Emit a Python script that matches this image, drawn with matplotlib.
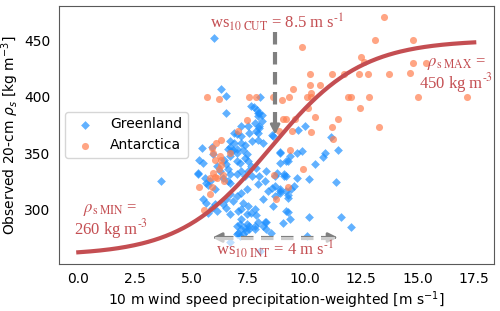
import numpy as np
from matplotlib import pyplot as plt

# Greenland sites: precipitation-weighted 10 m wind speed, observed 20-cm density
gl_ws = [6.0, 6.3, 6.55, 6.55, 7.2, 7.0, 7.5, 5.45,
         8.05, 7.75, 7.95, 8.1, 7.8, 8.0, 8.6, 9.7, 10.0, 11.15, 11.5, 8.9, 9.9, 10.9,
         10.8, 9.25, 10.45, 9.1, 9.2, 9.65, 10.2, 11.4, 8.9, 9.2, 9.55, 9.25, 10.2, 9.05, 11.6, 12.05, 10.1,
         8.25, 8.3, 8.5, 7.8, 7.55, 8.05, 6.7,
         7.2, 7.55, 7.95, 6.7, 6.9, 7.2, 7.7, 8.15,
         6.85, 7.0, 7.3, 7.45, 7.0, 7.15, 7.35, 7.5,
         7.65, 7.85, 7.5, 7.2, 7.0, 7.35, 7.7,
         8.3, 8.7, 8.25, 8.0, 7.95,
         8.55, 8.4, 8.9, 9.4, 9.25,
         8.15, 8.6,
         7.45, 7.2, 7.0, 6.85,
         7.3, 7.5, 7.2, 7.65, 7.45, 7.8, 7.85,
         7.15, 7.35, 7.4, 7.0,
         6.9, 5.9, 5.95, 5.35, 5.5, 6.6, 6.75, 6.7, 6.45, 6.55, 6.6, 5.3, 5.6, 5.8,
         6.15, 6.25, 6.4, 6.6, 6.7, 5.75, 6.05, 5.5, 5.65, 6.05, 6.4, 6.15, 6.55, 6.7, 3.65,
         5.3, 5.65, 5.9, 5.75, 6.55, 6.7,
         7.05, 7.2, 7.45, 7.0, 7.2, 7.05, 7.15, 7.3, 7.55, 7.8, 7.95, 8.15, 8.3,
         8.7, 8.7, 8.9, 9.25, 9.2, 9.35,
         9.1, 8.8, 8.9, 9.2, 9.35, 8.9, 9.65,
         7.65, 7.9, 8.0, 7.95, 8.1, 8.0, 7.85, 7.95,
         8.55, 6.7, 7.0, 7.35, 6.7]
gl_rho = [451.5, 406.7, 401, 386, 374.4, 367.4, 373.8, 354.8,
          400, 391, 386, 384, 377, 374, 365.6, 371, 374, 364.5, 353.3, 351, 352, 350.4,
          347, 343, 340.8, 331.4, 330, 328.5, 327, 325, 316.7, 316.7, 321, 298.2, 294.2, 288.3, 294.2, 285, 277,
          289, 283.6, 280, 283, 286, 264, 271.4,
          365, 368, 368, 360.6, 359.2, 359.2, 360.6, 359.2,
          353.3, 350.4, 353.3, 349, 343, 341.6, 346, 343,
          338.7, 337.3, 334.3, 334.3, 331.4, 329.9, 329.9,
          334.3, 329.9, 325.5, 329.9, 322.6,
          319.7, 316.7, 318.2, 318.2, 313,
          309.4, 303.5,
          318.2, 315.3, 312.3, 308,
          306.5, 303.5, 300.6, 297.7, 296.2, 300.6, 295.4,
          287.4, 284.5, 281.5, 278.6,
          368, 355.4, 349.8, 344.5, 341.6, 354, 351.9, 347.5, 344.5, 340.2, 335.8, 331.4, 328.5, 325.5,
          338.7, 334.3, 328.5, 325.5, 331.4, 321.7, 318.2, 310, 305.9, 305, 305, 299, 309.4, 313.8, 325.5,
          332.9, 324, 302, 297, 302, 296.2,
          299, 291.7, 287.4, 286, 283, 280.1, 277.2, 278.6, 283.6, 286, 289, 286, 289,
          321, 312.3, 315.3, 310.9, 299, 291.7,
          330, 332.9, 341.6, 343, 347.5, 350.4, 350.4,
          391.4, 388.4, 385.6, 382.6, 378.2, 372.4, 369.4, 362,
          366.5, 355.5, 354, 357, 324]

# Antarctica sites
an_ws = [13.5, 13.1, 14.8, 9.9, 12.5, 12.65, 14.8, 15.35, 10.25, 11.2, 11.75, 12.4, 12.8, 13.75, 14.65,
         10.25, 10.7, 9.5, 10.3, 5.7, 6.2, 7.55, 7.85, 8.6, 9.0, 9.3, 10.1, 10.3, 11.9, 12.05, 12.85,
         15.0, 17.2, 10.15, 12.45, 9.05, 9.2, 9.6, 10.45, 11.5, 7.45, 11.2, 13.3, 8.85, 9.45, 10.3,
         7.05, 9.35, 6.3, 6.1, 5.9, 5.95, 6.25, 6.7, 6.3, 6.05, 6.3, 6.2, 5.95, 6.4, 6.15, 5.8, 6.05,
         6.45, 5.35, 5.9, 5.8, 5.55, 9.95, 9.25, 8.75, 8.65, 11.25]
an_rho = [470, 450, 450, 444, 435, 431, 430, 430, 420, 420, 420, 420, 420, 420, 421,
          410, 410, 407, 403, 400, 398, 400, 400, 400, 397, 400, 400, 400, 400, 400, 400,
          400, 400, 390, 390, 380, 380, 380, 382, 380, 379, 373, 373, 370, 370, 369,
          370, 353, 362, 359, 355, 350, 348, 350, 344, 344, 340, 336, 333, 331, 328, 328, 329,
          326, 320, 320, 314, 300, 336, 320, 310, 331, 363]

# fitted density model parameters
rho_min = 260
rho_max = 450
ws_cut = 8.5
ws_int = 4

red = '#c44e52'
serif = 'Liberation Serif'

fig, ax = plt.subplots(figsize=(5, 3.11), dpi=100)
fig.subplots_adjust(left=0.117, right=0.988, bottom=0.151, top=0.982)

ax.scatter(gl_ws, gl_rho, marker='D', s=20, color='dodgerblue', alpha=0.7,
           linewidths=0, label='Greenland', zorder=2)
ax.scatter(an_ws, an_rho, marker='o', s=26, color='coral', alpha=0.7,
           linewidths=0, label='Antarctica', zorder=2)

ws = np.linspace(0, 17.5, 200)
rho_fit = rho_min + (rho_max - rho_min) * (1 + np.tanh((ws - ws_cut) / ws_int)) / 2
ax.plot(ws, rho_fit, color=red, lw=3, zorder=3)

# gray dashed arrows
ax.plot([8.7, 8.7], [457, 372], color='gray', lw=3, dashes=(3, 1.8), zorder=4)
ax.annotate('', xy=(8.7, 364), xytext=(8.7, 375),
            arrowprops=dict(arrowstyle='-|>', color='gray', lw=2, mutation_scale=14), zorder=4)
ax.plot([6.3, 11.1], [275.7, 275.7], color='gray', lw=3, dashes=(3, 1.8), zorder=4)
ax.annotate('', xy=(5.8, 275.7), xytext=(6.6, 275.7),
            arrowprops=dict(arrowstyle='-|>', color='gray', lw=2, mutation_scale=14), zorder=4)
ax.annotate('', xy=(11.6, 275.7), xytext=(10.8, 275.7),
            arrowprops=dict(arrowstyle='-|>', color='gray', lw=2, mutation_scale=14), zorder=4)

txt = dict(color=red, fontsize=12, family=serif, math_fontfamily='stix',
           ha='center', va='center', multialignment='center')
ax.text(8.8, 465.5, r'ws$_\mathrm{10\ CUT}$ = 8.5 m s$^\text{-1}$', **txt)
ax.text(8.7, 265.5, r'ws$_\mathrm{10\ INT}$ = 4 m s$^\text{-1}$',
        bbox=dict(fc='white', ec='none', alpha=0.6, pad=1), zorder=5, **txt)
ax.text(16.7, 418.5, '$\\rho_\\mathrm{s\\ MAX}$ =\n450 kg m$^\\text{-3}$', linespacing=0.95, **txt)
ax.text(1.43, 289.5, '$\\rho_\\mathrm{s\\ MIN}$ =\n260 kg m$^\\text{-3}$', linespacing=0.95, **txt)

ax.set_xticks([0, 2.5, 5, 7.5, 10, 12.5, 15, 17.5])
ax.set_yticks([300, 350, 400, 450])
ax.tick_params(length=0, pad=6, labelsize=10)
for sp in ax.spines.values():
    sp.set_color('0.35')

ax.set_xlabel('10 m wind speed precipitation-weighted [m s$^{-1}$]', fontsize=10, labelpad=2)
ax.set_ylabel(r'Observed 20-cm $\rho_s$ [kg m$^{-3}$]', fontsize=10, labelpad=2)
ax.legend(loc='center left', fontsize=10)

plt.savefig('out.png', dpi=100)
plt.close()
